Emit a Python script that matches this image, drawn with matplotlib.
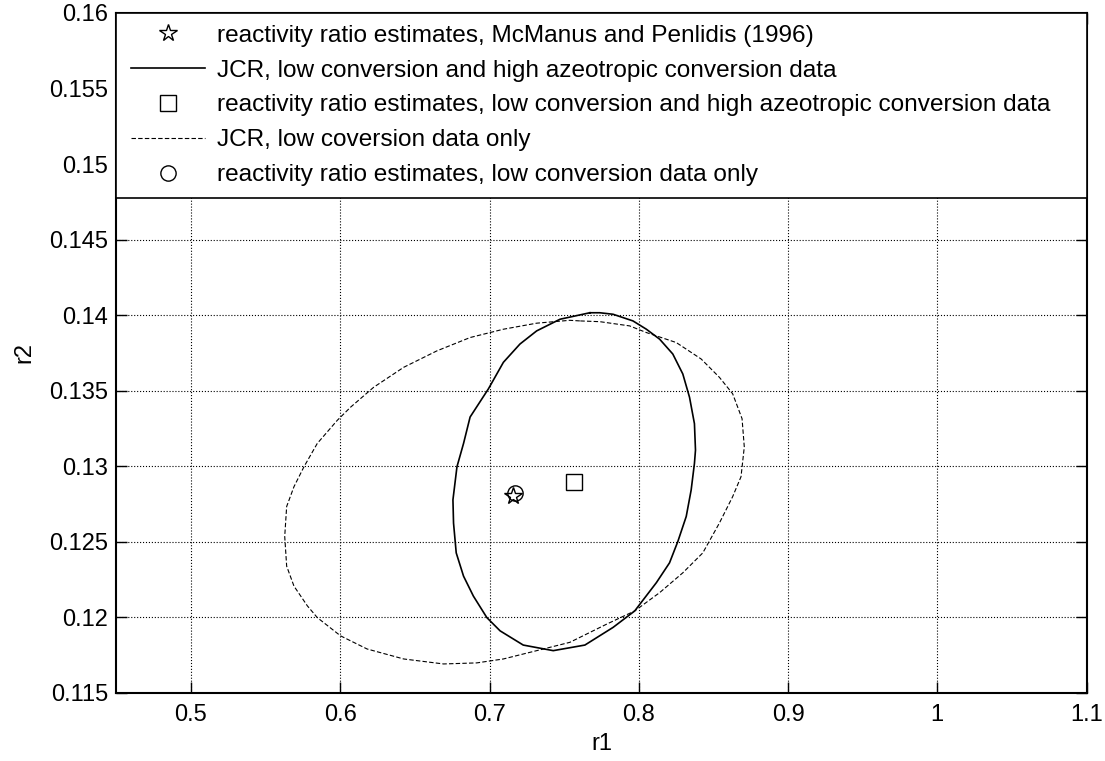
import matplotlib
matplotlib.use("Agg")
import matplotlib.pyplot as plt
from matplotlib.lines import Line2D
from matplotlib.legend_handler import HandlerLine2D

plt.rcParams['font.family'] = ['Liberation Sans', 'DejaVu Sans']

# Point estimates
mp_r1, mp_r2 = [0.7156], [0.12804]          # McManus and Penlidis (1996)
hc_r1, hc_r2 = [0.7565], [0.12898]          # low + high azeotropic conversion
lc_r1, lc_r2 = [0.7171], [0.12822]          # low conversion only

# JCR, low conversion and high azeotropic conversion data (solid)
jcr_hc_r1 = [0.7672, 0.7472, 0.7316, 0.7204, 0.7093, 0.6993, 0.6870, 0.6826, 0.6782,
             0.6755, 0.6759, 0.6777, 0.6826, 0.6892, 0.6982, 0.7071, 0.7226, 0.7427,
             0.7639, 0.7828, 0.7973, 0.8118, 0.8206, 0.8262, 0.8318, 0.8351, 0.8373,
             0.8380, 0.8373, 0.8340, 0.8295, 0.8228, 0.8140, 0.8051, 0.7961, 0.7828,
             0.7739, 0.7672]
jcr_hc_r2 = [0.14016, 0.13973, 0.13896, 0.13809, 0.13688, 0.13513, 0.13326, 0.13151,
             0.12997, 0.12778, 0.12624, 0.12427, 0.12273, 0.12141, 0.11999, 0.11911,
             0.11817, 0.11780, 0.11817, 0.11934, 0.12043, 0.12230, 0.12361, 0.12503,
             0.12668, 0.12843, 0.13019, 0.13107, 0.13282, 0.13457, 0.13611, 0.13743,
             0.13841, 0.13907, 0.13962, 0.14006, 0.14016, 0.14016]

# JCR, low conversion data only (dashed)
jcr_lc_r1 = [0.7605, 0.7538, 0.7316, 0.7093, 0.6870, 0.6648, 0.6425, 0.6224, 0.6069,
             0.5980, 0.5846, 0.5757, 0.5690, 0.5641, 0.5628, 0.5641, 0.5690, 0.5780,
             0.5846, 0.6002, 0.6180, 0.6425, 0.6692, 0.6915, 0.7093, 0.7316, 0.7538,
             0.7784, 0.7973, 0.8140, 0.8295, 0.8429, 0.8540, 0.8629, 0.8685, 0.8707,
             0.8692, 0.8629, 0.8540, 0.8418, 0.8251, 0.8051, 0.7939, 0.7739, 0.7605]
jcr_lc_r2 = [0.13962, 0.13966, 0.13947, 0.13907, 0.13852, 0.13764, 0.13655, 0.13523,
             0.13391, 0.13304, 0.13151, 0.12997, 0.12865, 0.12734, 0.12536, 0.12339,
             0.12207, 0.12076, 0.11999, 0.11878, 0.11791, 0.11725, 0.11692, 0.11699,
             0.11725, 0.11780, 0.11835, 0.11955, 0.12043, 0.12164, 0.12295, 0.12427,
             0.12624, 0.12799, 0.12931, 0.13128, 0.13315, 0.13480, 0.13589, 0.13710,
             0.13819, 0.13885, 0.13929, 0.13957, 0.13962]

xticks = [0.5, 0.6, 0.7, 0.8, 0.9, 1.0, 1.1]
xticklabels = ['0.5', '0.6', '0.7', '0.8', '0.9', '1', '1.1']
yticks = [0.115, 0.12, 0.125, 0.13, 0.135, 0.14, 0.145, 0.15, 0.155, 0.16]
yticklabels = ['0.115', '0.12', '0.125', '0.13', '0.135', '0.14', '0.145', '0.15', '0.155', '0.16']

labels = ['reactivity ratio estimates, McManus and Penlidis (1996)',
          'JCR, low conversion and high azeotropic conversion data',
          'reactivity ratio estimates, low conversion and high azeotropic conversion data',
          'JCR, low coversion data only',
          'reactivity ratio estimates, low conversion data only']

FS = 17
LFS = 17.6

fig = plt.figure(figsize=(11.05, 7.61), dpi=100)
ax = fig.add_axes([0.1053, 0.0894, 0.8780, 0.8936])

h1, = ax.plot(mp_r1, mp_r2, linestyle='none', marker='*', markersize=13,
              markerfacecolor='none', markeredgecolor='black', markeredgewidth=1.0)
h2, = ax.plot(jcr_hc_r1, jcr_hc_r2, color='black', linewidth=1.2)
h3, = ax.plot(hc_r1, hc_r2, linestyle='none', marker='s', markersize=11,
              markerfacecolor='none', markeredgecolor='black', markeredgewidth=1.0)
h4, = ax.plot(jcr_lc_r1, jcr_lc_r2, color='black', linewidth=0.8, linestyle=(0, (4, 2)))
h5, = ax.plot(lc_r1, lc_r2, linestyle='none', marker='o', markersize=11,
              markerfacecolor='none', markeredgecolor='black', markeredgewidth=1.0)

ax.set_xlim(0.45, 1.1)
ax.set_ylim(0.115, 0.16)
ax.set_xticks(xticks)
ax.set_xticklabels(xticklabels)
ax.set_yticks(yticks)
ax.set_yticklabels(yticklabels)
ax.tick_params(direction='in', length=8, width=1, top=True, right=True,
               labelsize=FS, colors='black')
ax.tick_params(axis='x', pad=8)
ax.tick_params(axis='y', pad=6)
ax.grid(True, color='black', linestyle=':', linewidth=0.8)
for s in ax.spines.values():
    s.set_linewidth(1.5)
ax.set_xlabel('r1', fontsize=FS, labelpad=5)
ax.set_ylabel('r2', fontsize=FS, labelpad=10)

leg = ax.legend([h1, h2, h3, h4, h5], labels, loc='upper left',
                bbox_to_anchor=(0, 0, 1, 1), mode='expand', borderaxespad=0,
                fontsize=LFS, handlelength=3.13, handletextpad=0.52,
                labelspacing=0.52, borderpad=0.48, fancybox=False,
                framealpha=1, edgecolor='black',
                handler_map={Line2D: HandlerLine2D(xpad=0.11)})
leg.get_frame().set_linewidth(1.2)

fig.savefig('out.png', dpi=100)
